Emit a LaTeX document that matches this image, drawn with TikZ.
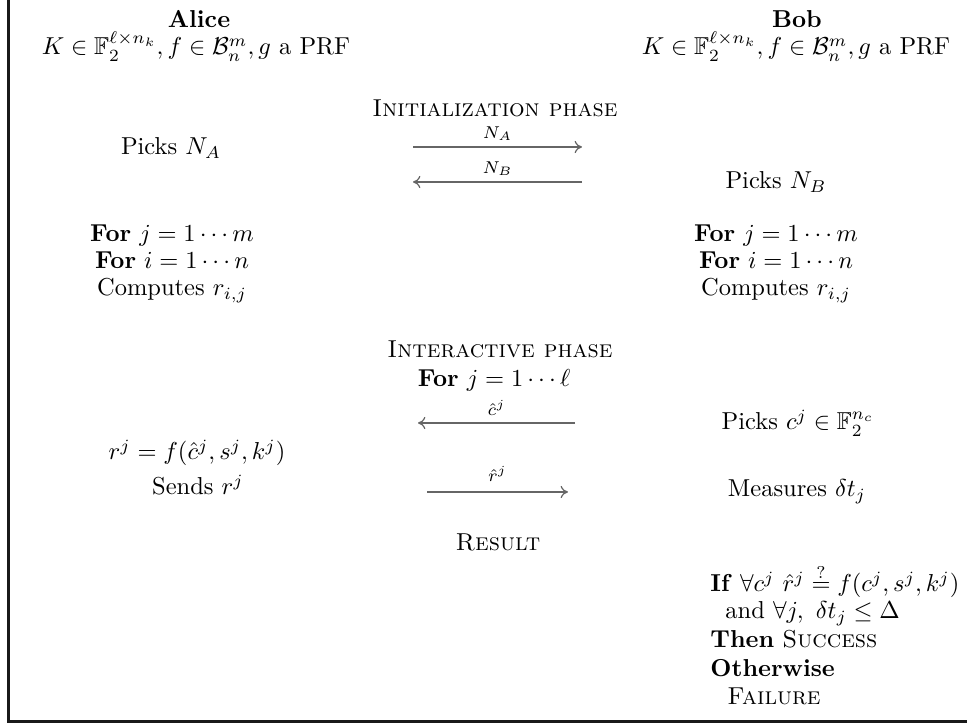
\documentclass[tikz,border=0pt]{standalone}
\usepackage{amsmath,amssymb}
\usetikzlibrary{arrows.meta}
\begin{document}
\begin{tikzpicture}[x=0.4085pt,y=-0.4085pt,
  txt/.style={inner sep=0pt, anchor=base},
  ltxt/.style={inner sep=0pt, anchor=base west},
  msg/.style={draw=black!60, line width=0.5pt, -{Computer Modern Rightarrow[length=3pt,width=5pt]}},
  lbl/.style={inner sep=0pt, font=\scriptsize, anchor=base, yshift=3.6pt},
  frame/.style={line width=1pt, draw=black!90}]
\useasboundingbox (0,0) rectangle (967,724);
\draw[frame] (8.5,0) -- (8.5,721.5) -- (967,721.5);

% headers
\node[txt] (alice) at (199,28) {\textbf{Alice}};
\node[txt] (akey) at (196,55) {$K\in\mathbb{F}_2^{\ell\times n_k}, f\in\mathcal{B}_n^m, g$ a PRF};
\node[txt] (bob) at (797,28) {\textbf{Bob}};
\node[txt] (bkey) at (796,55) {$K\in\mathbb{F}_2^{\ell\times n_k}, f\in\mathcal{B}_n^m, g$ a PRF};

% initialization
\node[txt] (init) at (495,117) {\textsc{Initialization phase}};
\node[txt] (pna) at (171,155) {Picks $N_A$};
\node[txt] (pnb) at (776,189) {Picks $N_B$};
\coordinate (m1l) at (413,147);
\coordinate (m1r) at (582,147);
\coordinate (m2l) at (413,182);
\coordinate (m2r) at (582,182);
\draw[msg] (m1l) -- node[lbl] (lna) {$N_A$} (m1r);
\draw[msg] (m2r) -- node[lbl] (lnb) {$N_B$} (m2l);

% loops
\node[txt] (afj) at (172,242) {\textbf{For} $j=1\cdots m$};
\node[txt] (afi) at (172,269) {\textbf{For} $i=1\cdots n$};
\node[txt] (acr) at (172,296) {Computes $r_{i,j}$};
\node[txt] (bfj) at (776,242) {\textbf{For} $j=1\cdots m$};
\node[txt] (bfi) at (776,269) {\textbf{For} $i=1\cdots n$};
\node[txt] (bcr) at (776,296) {Computes $r_{i,j}$};

% interactive
\node[txt] (inter) at (500,358) {\textsc{Interactive phase}};
\node[txt] (ifj) at (494,387) {\textbf{For} $j=1\cdots\ell$};
\coordinate (m3l) at (418,423);
\coordinate (m3r) at (575,423);
\coordinate (m4l) at (427,492);
\coordinate (m4r) at (568,492);
\draw[msg] (m3r) -- node[lbl, yshift=-0.5pt] (lc) {$\hat{c}^j$} (m3l);
\draw[msg] (m4l) -- node[lbl, yshift=0.6pt] (lr) {$\hat{r}^j$} (m4r);
\node[txt] (pcj) at (798,430) {Picks $c^j\in\mathbb{F}_2^{n_c}$};
\node[txt] (rj) at (197,460) {$r^j=f(\hat{c}^j,s^j,k^j)$};
\node[txt] (srj) at (198,495) {Sends $r^j$};
\node[txt] (mdt) at (797,497) {Measures $\delta t_j$};

% result
\node[txt] (res) at (498,551) {\textsc{Result}};
\node[ltxt] (r1) at (710,592) {\textbf{If} $\forall c^j\ \hat{r}^j\stackrel{?}{=}f(c^j,s^j,k^j)$};
\node[ltxt] (r2) at (725,619) {and $\forall j,\ \delta t_j\le\Delta$};
\node[ltxt] (r3) at (710,648) {\textbf{Then} \textsc{Success}};
\node[ltxt] (r4) at (710,677) {\textbf{Otherwise}};
\node[ltxt] (r5) at (727,705) {\textsc{Failure}};
\end{tikzpicture}
\end{document}
